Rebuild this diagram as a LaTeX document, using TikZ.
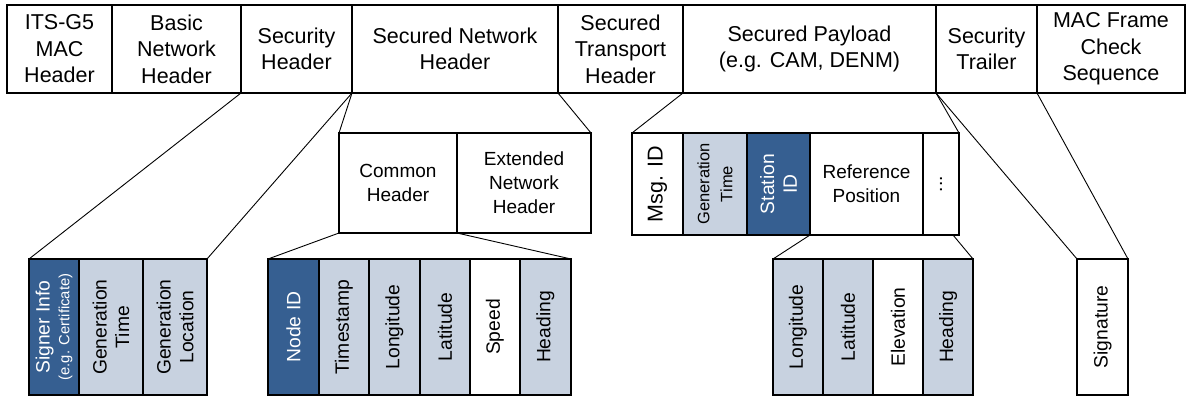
\documentclass[tikz,border=0pt]{standalone}
\usepackage{fontspec}
\setmainfont{Liberation Sans}
\definecolor{fielddark}{RGB}{54,95,145}
\definecolor{fieldlight}{RGB}{200,210,224}

% one field of a frame: name, x0, x1, y0, y1, box style, text style, text
\newcommand\field[8]{%
  \node[field,#6,minimum width={#3pt-#2pt},minimum height={#5pt-#4pt},anchor=north west] (#1) at (#2,#4) {};
  \node[#7] (#1-txt) at (#1.center) {#8};}

\begin{document}
\begin{tikzpicture}[x=1pt,y=-1pt,
  field/.style={draw=black,line width=2.6pt,outer sep=0pt,inner sep=0pt,fill=white},
  dark/.style={fill=fielddark},
  light/.style={fill=fieldlight},
  toptext/.style={align=center,inner sep=0pt,font=\fontsize{21.5}{26.5}\selectfont},
  midtext/.style={align=center,inner sep=0pt,font=\fontsize{19}{24}\selectfont},
  vtext/.style={rotate=90,align=center,inner sep=0pt,font=\fontsize{19.3}{22.7}\selectfont},
  vsmall/.style={vtext,font=\fontsize{16.5}{23}\selectfont},
  vbig/.style={vtext,font=\fontsize{21.5}{25}\selectfont},
  onDark/.style={text=white},
  link/.style={draw=black,line width=0.9pt}]
\useasboundingbox (0,0) rectangle (1189,398);

\coordinate (pe) at (953,235);

% frame row
\field{t1}{7}{112}{5}{93}{}{toptext}{ITS-G5\\MAC\\Header}
\field{t2}{112}{241}{5}{93}{}{toptext}{Basic\\Network\\Header}
\field{t3}{241}{352}{5}{93}{}{toptext}{Security\\Header}
\field{t4}{352}{558}{5}{93}{}{toptext}{Secured Network\\Header}
\field{t5}{558}{683}{5}{93}{}{toptext}{Secured\\Transport\\Header}
\field{t6}{683}{936}{5}{93}{}{toptext}{Secured Payload\\(e.g. CAM, DENM)}
\field{t7}{936}{1037}{5}{93}{}{toptext}{Security\\Trailer}
\field{t8}{1037}{1185}{5}{93}{}{toptext}{MAC Frame\\Check\\Sequence}

% secured network header
\field{n1}{339}{457}{133}{233}{}{midtext}{Common\\Header}
\field{n2}{457}{591}{133}{233}{}{midtext}{Extended\\Network\\Header}

% secured payload
\field{p1}{632}{683}{133}{235}{}{vbig}{Msg. ID}
\field{p2}{683}{747}{133}{235}{light}{vsmall}{Generation\\Time}
\field{p3}{747}{810}{133}{235}{dark}{vtext,onDark}{Station\\ID}
\field{p4}{810}{923}{133}{235}{}{midtext}{Reference\\Position}
\field{p5}{923}{959}{133}{235}{}{vtext}{...}

% security header
\field{s1}{29}{79}{259}{395}{dark}{vtext,onDark}{Signer Info\\[-3pt]{\fontsize{14.8}{16}\selectfont (e.g. Certificate)}}
\field{s2}{79}{143}{259}{395}{light}{vtext}{Generation\\Time}
\field{s3}{143}{207}{259}{395}{light}{vtext}{Generation\\Location}

% common header
\field{c1}{268}{319}{259}{395}{dark}{vtext,onDark}{Node ID}
\field{c2}{319}{369}{259}{395}{light}{vtext}{Timestamp}
\field{c3}{369}{420}{259}{395}{light}{vtext}{Longitude}
\field{c4}{420}{470}{259}{395}{light}{vtext}{Latitude}
\field{c5}{470}{520}{259}{395}{}{vtext}{Speed}
\field{c6}{520}{571}{259}{395}{light}{vtext}{Heading}

% reference position
\field{r1}{773}{823}{259}{395}{light}{vtext}{Longitude}
\field{r2}{823}{873}{259}{395}{light}{vtext}{Latitude}
\field{r3}{873}{923}{259}{395}{}{vtext}{Elevation}
\field{r4}{923}{973}{259}{395}{light}{vtext}{Heading}

% security trailer
\field{g1}{1077}{1128}{259}{395}{}{vtext}{Signature}

% zoom lines
\draw[link] (t3.south west) -- (s1.north west);
\draw[link] (t3.south east) -- (s3.north east);
\draw[link] (t4.south west) -- (n1.north west);
\draw[link] (t4.south east) -- (n2.north east);
\draw[link] (n1.south west) -- (c1.north west);
\draw[link] (n1.south east) -- (c6.north east);
\draw[link] (t6.south west) -- (p1.north west);
\draw[link] (t6.south east) -- (p5.north east);
\draw[link] (p4.south west) -- (r1.north west);
\draw[link] (pe) -- (r4.north east);
\draw[link] (t7.south west) -- (g1.north west);
\draw[link] (t7.south east) -- (g1.north east);
\end{tikzpicture}
\end{document}
